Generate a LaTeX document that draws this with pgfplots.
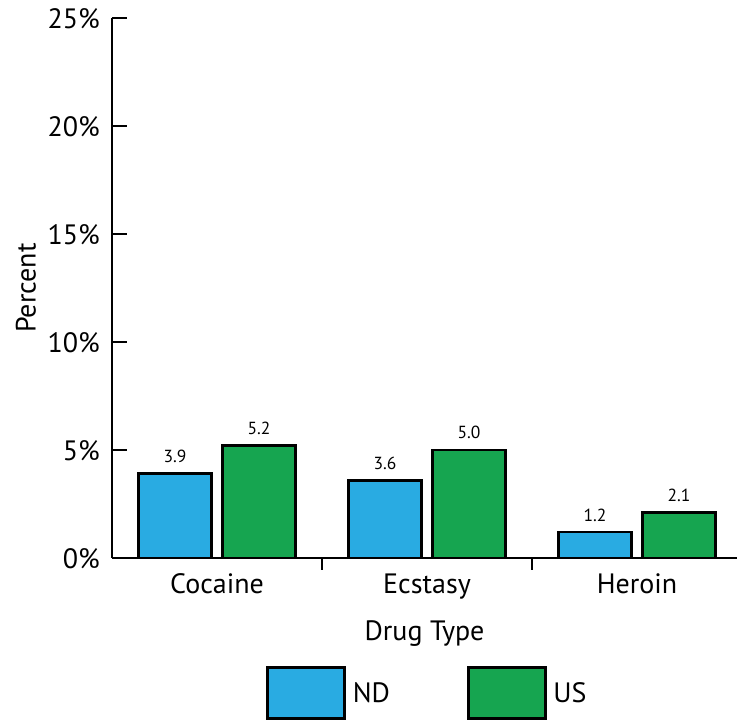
\documentclass[border=0pt]{standalone}
\usepackage{fontspec}
\setmainfont{PT Sans}
\usepackage{pgfplots}
\pgfplotsset{compat=1.18}
\definecolor{ndblue}{RGB}{41,171,226}
\definecolor{usgreen}{RGB}{22,165,80}
\begin{document}
\begin{tikzpicture}
\begin{axis}[
  at={(112pt,164pt)}, anchor=south west,
  scale only axis, width=625pt, height=540pt,
  xmin=-0.5, xmax=2.476, ymin=0, ymax=25,
  axis x line*=bottom, axis y line*=left,
  axis line style={line width=2.7pt, -},
  tick align=inside,
  tick style={line width=2.7pt, black},
  ytick={0,5,10,15,20,25},
  yticklabel={\pgfmathprintnumber{\tick}\%},
  ytick style={/pgfplots/major tick length=15pt},
  xtick={0,1,2},
  xticklabels={Cocaine,Ecstasy,Heroin},
  xtick style={/pgfplots/major tick length=0pt},
  minor xtick={0.5,1.5},
  minor tick length=12pt,
  /pgf/number format/assume math mode=true,
  ticklabel style={font=\fontsize{28}{32}\selectfont},
  yticklabel style={anchor=base east, inner sep=0pt, xshift=-12pt, yshift=-11pt},
  xticklabel style={anchor=base, inner sep=0pt, yshift=-31pt},
  label style={font=\fontsize{28}{32}\selectfont},
  ylabel={Percent},
  ylabel style={at={(axis description cs:-0.1376,0.5)}, anchor=center, inner sep=0pt},
  xlabel={Drug Type},
  xlabel style={at={(axis description cs:0.5,0)}, anchor=base, inner sep=0pt, yshift=-83pt},
  ybar, bar width=73pt,
  nodes near coords,
  nodes near coords style={font=\fontsize{17.5}{20}\selectfont, anchor=base, inner sep=0pt, yshift=11pt,
    /pgf/number format/.cd, fixed, fixed zerofill, precision=1, assume math mode=true},
  legend columns=2,
  legend style={at={(axis description cs:0.2468,-0.3)}, anchor=south west, draw=none, fill=none,
    inner sep=0pt, font=\fontsize{28}{32}\selectfont,
    /tikz/every even column/.append style={column sep=75pt}},
  legend image code/.code={\draw[#1, line width=2.7pt] (0pt,-25.5pt) rectangle (77pt,25.5pt); \path[draw=none, fill=none] (0pt,0pt) -- (83pt,0pt);},
]
\addplot[fill=ndblue, draw=black, line width=2.7pt, bar shift=-42pt] coordinates {(0,3.9) (1,3.6) (2,1.2)};
\addplot[fill=usgreen, draw=black, line width=2.7pt, bar shift=42pt] coordinates {(0,5.2) (1,5.0) (2,2.1)};
\legend{ND,US}
\end{axis}
\pgfresetboundingbox
\path[use as bounding box] (0,0) rectangle (737pt,722pt);
\end{tikzpicture}
\end{document}
